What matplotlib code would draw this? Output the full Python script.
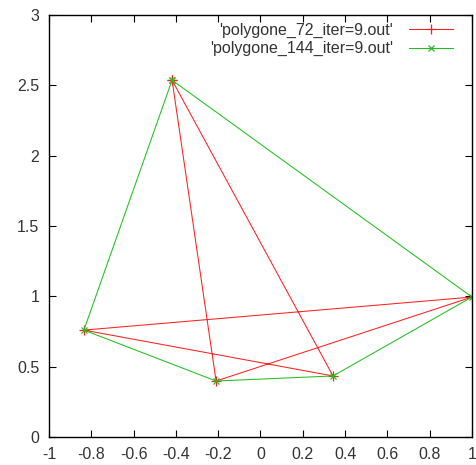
import numpy as np
import matplotlib.pyplot as plt

# vertices of the 72-iteration polygon (star ordering)
x72 = [-0.418, -0.210, 1.0, -0.835, 0.343, -0.418]
y72 = [2.537, 0.398, 0.995, 0.760, 0.434, 2.537]

# vertices of the 144-iteration polygon (convex ordering)
x144 = [-0.418, 1.0, 0.343, -0.210, -0.835, -0.418]
y144 = [2.537, 0.995, 0.434, 0.398, 0.760, 2.537]

labels = ["'polygone_72_iter=9.out'", "'polygone_144_iter=9.out'"]

plt.rcParams['font.family'] = ['Liberation Sans', 'DejaVu Sans']

fig = plt.figure(figsize=(4.77, 4.65), dpi=100)
ax = fig.add_axes([0.1027, 0.0602, 0.8868, 0.9075])

ax.plot(x72, y72, color='#ff2020', lw=0.75, marker='+', ms=7, mew=0.9,
        label=labels[0])
ax.plot(x144, y144, color='#20c020', lw=0.75, marker='x', ms=5, mew=0.9,
        label=labels[1])

ax.set_xlim(-1, 1)
ax.set_ylim(0, 3)
ax.set_xticks(np.arange(-1, 1.01, 0.2))
ax.set_yticks(np.arange(0, 3.01, 0.5))
ax.set_xticklabels(['-1', '-0.8', '-0.6', '-0.4', '-0.2', '0', '0.2', '0.4',
                    '0.6', '0.8', '1'])
ax.set_yticklabels(['0', '0.5', '1', '1.5', '2', '2.5', '3'])
ax.tick_params(direction='in', top=True, right=True, length=5, width=0.8,
               labelsize=11.5, labelcolor='#333333', pad=7)
for s in ax.spines.values():
    s.set_linewidth(1.0)

leg = ax.legend(loc='upper right', frameon=False, markerfirst=False,
                fontsize=11.5, handlelength=2.8, handletextpad=1.0,
                labelspacing=0.2, borderaxespad=0.1,
                bbox_to_anchor=(0.975, 1.0))
for t in leg.get_texts():
    t.set_color('#333333')

fig.savefig('out.png', dpi=100)
